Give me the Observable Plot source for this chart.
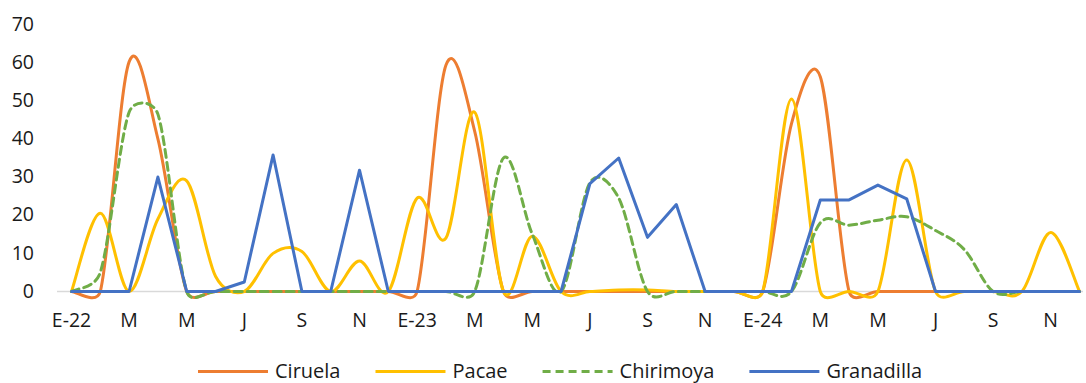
<!DOCTYPE html>
<html>
<head>
<meta charset="utf-8">
<script src="https://cdn.jsdelivr.net/npm/d3@7"></script>
<script src="https://cdn.jsdelivr.net/npm/@observablehq/plot@0.6"></script>
<style>
  html, body { margin: 0; padding: 0; background: #fff; }
  #chart svg { display: block; }
</style>
</head>
<body>
<div id="chart"></div>
<script>
// Month index 0 = Jan 2022 ... 35 = Dec 2024
const months = d3.range(36);
const tickLabels = ["E-22","M","M","J","S","N","E-23","M","M","J","S","N","E-24","M","M","J","S","N"];
const yTicks = [0, 10, 20, 30, 40, 50, 60, 70];

const seriesNames = ["Ciruela", "Pacae", "Chirimoya", "Granadilla"];
const seriesColors = ["#ED7D31", "#FFC000", "#70AD47", "#4472C4"];

const ciruela = [0,0,60.2,40,0,0,0,0,0,0,0,0, 0,59.3,42,0,0,0,0,0,0,0,0,0, 0,44,56.3,0,0,0,0,0,0,0,0,0];
const pacae = [0,20.5,0,19,29,4,0,10,10.5,0,8,0, 24.5,14,47,0,14.5,0,0,0.4,0.4,0,0,0, 0,50.5,0,0,0,34.5,0,0,0,0,15.5,0];
const chirimoya = [0,5,47,46.5,0,0,0,0,0,0,0,0, 0,0,0,35,15,0,28.5,24.5,0,0,0,0, 0,0,18,17.4,18.7,19.6,16,11,0,0,0,0];
const granadilla = [0,0,0,30,0,0,2.5,35.8,0,0,31.8,0, 0,0,0,0,0,0,28.3,35,14.2,22.8,0,0, 0,0,24,24,27.9,24.3,0,0,0,0,0,0];

const allValues = [ciruela, pacae, chirimoya, granadilla];
const data = seriesNames.map((name, s) => months.map(i => ({series: name, month: i, value: allValues[s][i]})));

// Spreadsheet-style smoothed line: Catmull-Rom tangents (1/6) with control arms clamped to half the segment
function SmoothCurve(context) { this._context = context; }
SmoothCurve.prototype = {
  areaStart() { this._line = 0; },
  areaEnd() { this._line = NaN; },
  lineStart() { this._pts = []; },
  point(x, y) { this._pts.push([+x, +y]); },
  lineEnd() {
    const p = this._pts, n = p.length, c = this._context;
    if (!n) return;
    c.moveTo(p[0][0], p[0][1]);
    if (n === 2) { c.lineTo(p[1][0], p[1][1]); return; }
    const arm = (a, b, len) => {
      let dx = (b[0] - a[0]) / 6, dy = (b[1] - a[1]) / 6;
      const l = Math.hypot(dx, dy), m = len / 2;
      if (l > m && l > 0) { dx *= m / l; dy *= m / l; }
      return [dx, dy];
    };
    for (let i = 0; i < n - 1; i++) {
      const p0 = p[Math.max(0, i - 1)], p1 = p[i], p2 = p[i + 1], p3 = p[Math.min(n - 1, i + 2)];
      const d12 = Math.hypot(p2[0] - p1[0], p2[1] - p1[1]);
      const a1 = arm(p0, p2, d12), a2 = arm(p1, p3, d12);
      c.bezierCurveTo(p1[0] + a1[0], p1[1] + a1[1], p2[0] - a2[0], p2[1] - a2[1], p2[0], p2[1]);
    }
  }
};
const smooth = (context) => new SmoothCurve(context);

const lineStyle = (s) => ({
  x: "month", y: "value",
  stroke: seriesColors[s],
  strokeWidth: 3,
  strokeLinecap: "round",
  strokeLinejoin: "round",
  curve: s === 3 ? "linear" : smooth,
  strokeDasharray: s === 2 ? "8,5" : null
});

const plot = Plot.plot({
  width: 1086,
  height: 350,
  marginLeft: 57,
  marginRight: 3,
  marginTop: 20,
  marginBottom: 59,
  x: {domain: [0, 35], range: [71, 1079]},
  y: {domain: [0, 70], range: [291, 24]},
  style: {fontFamily: "'Open Sans', sans-serif", fontSize: "19.5px", color: "#1a1a1a", background: "#fff"},
  marks: [
    Plot.ruleY([0], {stroke: "#d9d9d9", strokeWidth: 1.5}),
    Plot.axisY(yTicks, {tickSize: 0, tickPadding: 23.5, label: null}),
    Plot.axisX(d3.range(0, 36, 2), {tickSize: 0, tickPadding: 22, label: null, tickFormat: (d) => tickLabels[d / 2]}),
    ...data.map((d, s) => Plot.line(d, lineStyle(s)))
  ]
});
document.getElementById("chart").append(plot);

// Legend below the chart
const legend = d3.create("svg").attr("width", 1086).attr("height", 33)
  .style("display", "block")
  .style("font-family", "'Open Sans', sans-serif")
  .style("font-size", "20px");
document.getElementById("chart").append(legend.node());
let x = 198;
seriesNames.forEach((name, s) => {
  const g = legend.append("g");
  g.append("line").attr("x1", x).attr("x2", x + 70).attr("y1", 21.5).attr("y2", 21.5)
    .attr("stroke", seriesColors[s]).attr("stroke-width", 3)
    .attr("stroke-dasharray", s === 2 ? "8,5" : null);
  const t = g.append("text").attr("x", x + 77).attr("y", 27.5).attr("fill", "#1a1a1a").text(name);
  x += 77 + t.node().getComputedTextLength() + 35;
});
</script>
</body>
</html>
